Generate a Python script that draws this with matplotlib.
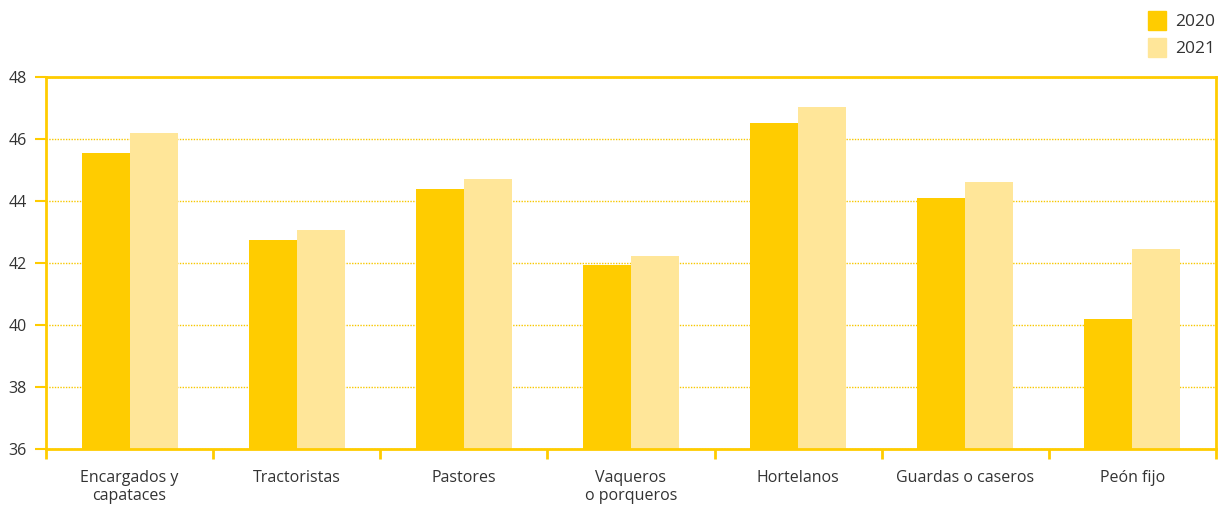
import numpy as np
import matplotlib.pyplot as plt
from matplotlib.patches import Patch

categories = ['Encargados y\ncapataces', 'Tractoristas', 'Pastores', 'Vaqueros\no porqueros',
              'Hortelanos', 'Guardas o caseros', 'Peón fijo']
values2020 = [45.55, 42.74, 44.39, 41.94, 46.52, 44.10, 40.19]
values2021 = [46.19, 43.06, 44.71, 42.23, 47.03, 44.61, 42.45]
yTicks = [36, 38, 40, 42, 44, 46, 48]

yellow = '#FFCC00'
lightYellow = '#FFE699'
textColor = '#333333'

plt.rcParams['font.family'] = ['Open Sans', 'DejaVu Sans']

fig = plt.figure(figsize=(12.27, 5.09), dpi=100)
ax = fig.add_axes([46/1227, 1 - 449/509, 1170/1227, 372/509])

x = np.arange(len(categories))
w = 0.287
ax.bar(x - w/2, [v - 36 for v in values2020], w, bottom=36, color=yellow, zorder=2)
ax.bar(x + w/2, [v - 36 for v in values2021], w, bottom=36, color=lightYellow, zorder=2)

ax.set_xlim(-0.5, len(categories) - 0.5)
ax.set_ylim(36, 48)
ax.set_yticks(yTicks)
ax.set_xticks(x)
ax.set_xticklabels(categories, fontsize=11.5, color=textColor)
ax.set_xticks(np.arange(-0.5, len(categories)), minor=True)
ax.tick_params(axis='x', which='major', length=0, pad=15)
ax.tick_params(axis='x', which='minor', length=7, width=2, color=yellow)
ax.tick_params(axis='y', length=8, width=1.5, color=yellow, labelsize=11.5, labelcolor=textColor, pad=6)

for s in ax.spines.values():
    s.set_color(yellow)
    s.set_linewidth(2)

ax.grid(axis='y', linestyle=(0, (1, 1)), color='#F8C800', linewidth=1.0, zorder=0)

handles = [Patch(color=yellow, label='2020'), Patch(color=lightYellow, label='2021')]
fig.legend(handles=handles, loc='upper right', bbox_to_anchor=(1.003, 1.01), frameon=False,
           handlelength=1.0, handleheight=1.35, handletextpad=0.55, labelspacing=0.45,
           fontsize=12.5, labelcolor=textColor)

plt.savefig('out.png')
